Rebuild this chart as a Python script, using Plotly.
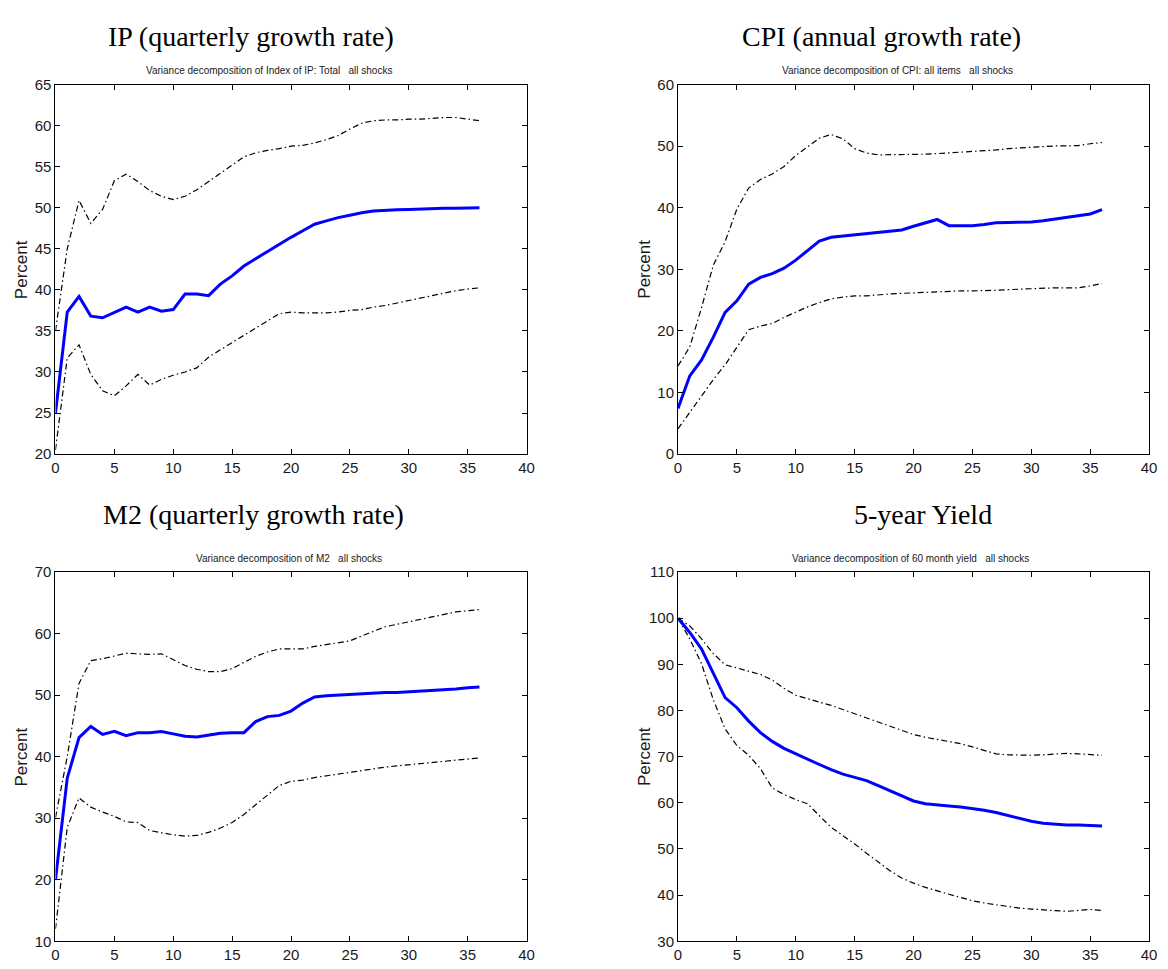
import plotly.graph_objects as go

W, H = 1168, 969
horizon = list(range(37))

# ---- IP (quarterly growth rate)
ip_mid = [25.0, 37.3, 39.2, 36.8, 36.6, 37.3, 37.9, 37.3, 37.9, 37.4, 37.6, 39.5, 39.5, 39.3, 40.7, 41.7,
          42.9, 43.8, 44.7, 45.6, 46.4, 47.2, 48.0, 48.4, 48.8, 49.1, 49.4, 49.6, 49.7, 49.75, 49.8, 49.87,
          49.9, 49.95, 49.95, 50.0, 50.0]
ip_up = [35.0, 45.0, 50.9, 48.1, 49.8, 53.3, 54.1, 53.2, 52.1, 51.4, 51.0, 51.4, 52.2, 53.2, 54.1, 55.2,
         56.2, 56.7, 57.0, 57.2, 57.5, 57.6, 57.9, 58.3, 58.8, 59.6, 60.3, 60.6, 60.7, 60.7, 60.8, 60.8,
         60.9, 61.0, 61.0, 60.8, 60.6]
ip_lo = [20.5, 31.7, 33.3, 29.7, 27.7, 27.1, 28.3, 29.7, 28.4, 29.1, 29.6, 30.0, 30.5, 31.8, 32.7, 33.6,
         34.4, 35.3, 36.3, 37.1, 37.3, 37.2, 37.2, 37.2, 37.3, 37.5, 37.6, 37.9, 38.1, 38.4, 38.7, 39.0,
         39.3, 39.6, 39.9, 40.1, 40.25]

# ---- CPI (annual growth rate)
cpi_mid = [7.4, 12.7, 15.3, 19.0, 23.0, 24.9, 27.6, 28.7, 29.3, 30.2, 31.5, 33.0, 34.6, 35.2, 35.4, 35.6,
           35.9, 36.1, 36.3, 36.4, 37.0, 37.5, 38.1, 37.1, 37.1, 37.1, 37.3, 37.55, 37.6, 37.65, 37.7, 37.9,
           38.2, 38.5, 38.7, 39.0, 39.7]
cpi_up = [14.3, 17.4, 23.8, 30.7, 34.5, 39.8, 43.2, 44.6, 45.5, 46.7, 48.5, 49.9, 51.3, 51.9, 51.2, 49.6,
          48.9, 48.6, 48.6, 48.7, 48.7, 48.7, 48.8, 48.9, 49.0, 49.1, 49.3, 49.4, 49.6, 49.7, 49.9, 50.0,
          50.05, 50.05, 50.1, 50.4, 50.6]
cpi_lo = [4.1, 6.8, 9.5, 12.1, 14.5, 17.4, 20.2, 20.8, 21.2, 22.2, 23.1, 23.9, 24.6, 25.2, 25.5, 25.7,
          25.7, 25.9, 26.0, 26.1, 26.2, 26.3, 26.4, 26.4, 26.5, 26.5, 26.5, 26.6, 26.7, 26.8, 26.9, 27.0,
          27.0, 27.0, 27.0, 27.3, 27.7]

# ---- M2 (quarterly growth rate)
m2_mid = [20.0, 36.5, 43.1, 44.9, 43.6, 44.1, 43.4, 43.9, 43.9, 44.1, 43.7, 43.3, 43.2, 43.5, 43.8, 43.9,
          43.9, 45.7, 46.5, 46.7, 47.4, 48.7, 49.7, 49.9, 50.0, 50.2, 50.3, 50.3, 50.4, 50.4, 50.5, 50.6,
          50.7, 50.9, 51.0, 51.2, 51.3]
m2_up = [30.1, 40.0, 51.9, 55.6, 55.9, 56.3, 56.8, 56.7, 56.6, 56.7, 55.7, 54.8, 54.2, 53.8, 53.8, 54.3,
         55.3, 56.3, 57.0, 57.5, 57.5, 57.5, 57.9, 58.2, 58.5, 58.8, 59.6, 60.4, 61.1, 61.5, 61.9, 62.4,
         62.8, 63.2, 63.5, 63.7, 63.9]
m2_lo = [12.0, 28.5, 33.3, 31.8, 31.0, 30.3, 29.4, 29.3, 28.0, 27.6, 27.3, 27.1, 27.2, 27.7, 28.4, 29.3,
         30.6, 32.2, 33.8, 35.3, 36.0, 36.2, 36.6, 36.9, 37.2, 37.5, 37.8, 38.0, 38.3, 38.5, 38.7, 38.9,
         39.1, 39.3, 39.5, 39.6, 39.8]

# ---- 5-year Yield
y5_mid = [100.0, 96.9, 93.3, 88.0, 82.8, 80.6, 77.7, 75.2, 73.3, 71.8, 70.6, 69.4, 68.3, 67.2, 66.2, 65.5,
          64.8, 63.7, 62.6, 61.4, 60.4, 59.8, 59.5, 59.3, 59.1, 58.8, 58.4, 57.9, 57.3, 56.6, 56.0, 55.6,
          55.4, 55.2, 55.2, 55.1, 55.0]
y5_up = [100.0, 98.3, 95.5, 92.3, 89.9, 89.2, 88.4, 87.8, 86.6, 84.8, 83.3, 82.5, 81.8, 81.1, 80.2, 79.4,
         78.4, 77.5, 76.7, 75.7, 74.8, 74.2, 73.7, 73.3, 72.8, 72.1, 71.3, 70.6, 70.4, 70.3, 70.3, 70.4,
         70.6, 70.7, 70.6, 70.5, 70.3]
y5_lo = [100.0, 95.5, 90.1, 82.3, 76.0, 72.4, 70.3, 67.4, 63.2, 61.8, 60.7, 59.8, 57.2, 54.7, 52.9, 51.1,
         49.1, 47.2, 45.3, 43.7, 42.6, 41.7, 40.9, 40.2, 39.5, 38.8, 38.3, 37.9, 37.5, 37.2, 37.0, 36.8,
         36.6, 36.5, 36.7, 36.9, 36.7]

titles = ["IP (quarterly growth rate)", "CPI (annual growth rate)",
          "M2 (quarterly growth rate)", "5-year Yield"]
subtitles = ["Variance decomposition of Index of IP: Total\u00a0\u00a0\u00a0all shocks",
             "Variance decomposition of CPI: all items\u00a0\u00a0\u00a0all shocks",
             "Variance decomposition of M2\u00a0\u00a0\u00a0all shocks",
             "Variance decomposition of 60 month yield\u00a0\u00a0\u00a0all shocks"]
y_ranges = [(20, 65), (0, 60), (10, 70), (30, 110)]
y_dticks = [5, 10, 10, 10]
x_range = (0, 40)

panels = [(ip_mid, ip_up, ip_lo), (cpi_mid, cpi_up, cpi_lo), (m2_mid, m2_up, m2_lo), (y5_mid, y5_up, y5_lo)]

# pixel geometry of plot areas (left, right, top, bottom)
boxes = [(52, 528, 77, 453), (681, 1157, 77, 453), (52, 528, 573, 949), (681, 1157, 573, 949)]
title_pos = [(250, 28), (887, 28), (252, 515), (929, 515)]
sub_pos = [(268, 63), (903, 63), (288, 559), (916, 559)]
percent_x = [18, 647, 18, 647]

fig = go.Figure()
band_dash = "6px,3px,1.5px,3px"
annotations = []
for i, (mid, up, lo) in enumerate(panels):
    n = "" if i == 0 else str(i + 1)
    xa, ya = "x" + n, "y" + n
    for series in (up, lo):
        fig.add_trace(go.Scatter(x=horizon, y=series, mode="lines", xaxis=xa, yaxis=ya,
                                 line=dict(color="black", width=1.2, dash=band_dash),
                                 showlegend=False, hoverinfo="skip"))
    fig.add_trace(go.Scatter(x=horizon, y=mid, mode="lines", xaxis=xa, yaxis=ya,
                             line=dict(color="#0000ff", width=3), showlegend=False))
    l, r, t, b = boxes[i]
    common = dict(showline=True, mirror="ticks", linecolor="black", linewidth=1,
                  ticks="inside", ticklen=5, tickcolor="black", tickwidth=1,
                  showgrid=False, zeroline=False,
                  tickfont=dict(family="Liberation Sans, Arial, sans-serif", size=15, color="#1a1a1a"))
    fig.layout["xaxis" + n] = dict(domain=[l / W, r / W], anchor=ya, range=list(x_range),
                                   tickmode="linear", tick0=0, dtick=5, **common)
    fig.layout["yaxis" + n] = dict(domain=[1 - b / H, 1 - t / H], anchor=xa, range=list(y_ranges[i]),
                                   tickmode="linear", tick0=y_ranges[i][0], dtick=y_dticks[i], **common)
    tx, ty = title_pos[i]
    annotations.append(dict(text=titles[i], x=tx / W, y=1 - ty / H, xref="paper", yref="paper",
                            xanchor="center", yanchor="middle", showarrow=False,
                            font=dict(family="Liberation Serif, serif", size=28, color="black")))
    sx, sy = sub_pos[i]
    annotations.append(dict(text=subtitles[i], x=sx / W, y=1 - sy / H, xref="paper", yref="paper",
                            xanchor="center", yanchor="middle", showarrow=False,
                            font=dict(family="Liberation Sans, Arial, sans-serif", size=10, color="#1a1a1a")))
    annotations.append(dict(text="Percent", x=percent_x[i] / W, y=1 - ((t + b) / 2) / H,
                            xref="paper", yref="paper", xanchor="center", yanchor="middle",
                            textangle=-90, showarrow=False,
                            font=dict(family="Liberation Sans, Arial, sans-serif", size=17, color="#1a1a1a")))

fig.update_layout(width=W, height=H, autosize=False, margin=dict(l=0, r=0, t=0, b=0),
                  plot_bgcolor="white", paper_bgcolor="white", annotations=annotations,
                  showlegend=False)

fig.write_html("out.html")
